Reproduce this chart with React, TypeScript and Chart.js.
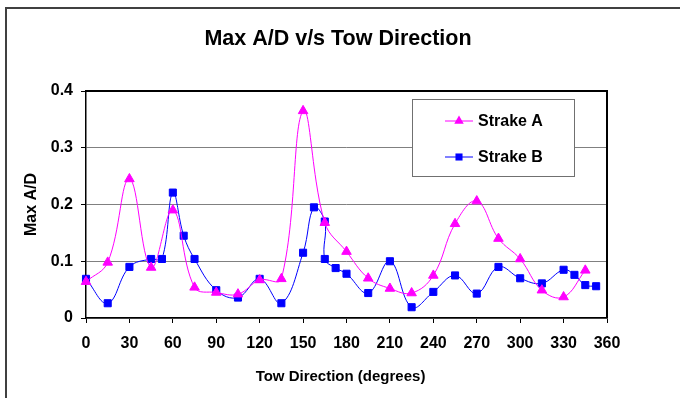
import React, { useEffect, useRef } from "react";
import { Chart, registerables } from "chart.js";

Chart.register(...registerables);

const TITLE = "Max A/D v/s Tow Direction";
const X_TITLE = "Tow Direction (degrees)";
const Y_TITLE = "Max A/D";

const strakeAX = [0, 15, 30, 45, 60, 75, 90, 105, 120, 135, 150, 165, 180, 195, 210, 225, 240, 255, 270, 285, 300, 315, 330, 345];
const strakeAY = [0.064, 0.098, 0.245, 0.089, 0.19, 0.054, 0.045, 0.042, 0.067, 0.069, 0.365, 0.168, 0.117, 0.07, 0.052, 0.044, 0.075, 0.166, 0.206, 0.14, 0.104, 0.049, 0.037, 0.084];

const strakeBX = [0, 15, 30, 45, 52.5, 60, 67.5, 75, 90, 105, 120, 135, 150, 157.5, 165, 165, 172.5, 180, 195, 210, 225, 240, 255, 270, 285, 300, 315, 330, 337.5, 345, 352.5];
const strakeBY = [0.069, 0.026, 0.09, 0.104, 0.104, 0.221, 0.145, 0.104, 0.049, 0.036, 0.069, 0.026, 0.115, 0.195, 0.17, 0.104, 0.088, 0.078, 0.044, 0.1, 0.019, 0.046, 0.075, 0.043, 0.09, 0.07, 0.061, 0.085, 0.076, 0.058, 0.056];

const FONT = "'Liberation Sans', Arial, sans-serif";

const decorPlugin = {
  id: "decor",
  beforeDraw(chart: any) {
    const ctx = chart.ctx;
    ctx.save();
    ctx.fillStyle = "#fff";
    ctx.fillRect(0, 0, chart.width, chart.height);
    // outer frame (left + top)
    ctx.strokeStyle = "#404040";
    ctx.lineWidth = 2;
    ctx.beginPath();
    ctx.moveTo(6, chart.height + 2);
    ctx.lineTo(6, 8);
    ctx.lineTo(chart.width + 2, 8);
    ctx.stroke();
    // title
    ctx.fillStyle = "#000";
    ctx.font = `bold 21.5px ${FONT}`;
    ctx.textAlign = "center";
    ctx.textBaseline = "middle";
    ctx.fillText(TITLE, 338, 39);
    // axis titles
    ctx.font = `bold 15px ${FONT}`;
    const a = chart.chartArea;
    ctx.fillText(X_TITLE, (a.left + a.right) / 2 - 6, 377);
    ctx.font = `bold 16px ${FONT}`;
    ctx.save();
    ctx.translate(32, (a.top + a.bottom) / 2);
    ctx.rotate(-Math.PI / 2);
    ctx.fillText(Y_TITLE, 0, 0);
    ctx.restore();
    ctx.restore();
  },
  afterDraw(chart: any) {
    const ctx = chart.ctx;
    const a = chart.chartArea;
    ctx.save();
    // plot frame top & right
    ctx.strokeStyle = "#000";
    ctx.lineWidth = 2;
    ctx.beginPath();
    ctx.moveTo(a.left, a.top);
    ctx.lineTo(a.right, a.top);
    ctx.lineTo(a.right, a.bottom);
    ctx.stroke();
    // legend box
    const lx = 412.5, ly = 99.5, lw = 162, lh = 77;
    ctx.fillStyle = "#fff";
    ctx.fillRect(lx, ly, lw, lh);
    ctx.strokeStyle = "#707070";
    ctx.lineWidth = 1;
    ctx.strokeRect(lx, ly, lw, lh);
    const rows = [121, 157];
    chart.data.datasets.forEach((ds: any, i: number) => {
      const y = rows[i];
      ctx.strokeStyle = ds.borderColor;
      ctx.lineWidth = 1;
      ctx.beginPath();
      ctx.moveTo(445, y);
      ctx.lineTo(473, y);
      ctx.stroke();
      ctx.fillStyle = ds.pointBackgroundColor;
      ctx.beginPath();
      if (ds.pointStyle === "triangle") {
        const r = ds.pointRadius;
        ctx.moveTo(459, y - r);
        ctx.lineTo(459 + r * 0.866, y + r * 0.5);
        ctx.lineTo(459 - r * 0.866, y + r * 0.5);
        ctx.closePath();
      } else {
        const s = ds.pointRadius * Math.SQRT1_2;
        ctx.rect(459 - s, y - s, 2 * s, 2 * s);
      }
      ctx.fill();
      ctx.fillStyle = "#000";
      ctx.font = `bold 16px ${FONT}`;
      ctx.textAlign = "left";
      ctx.textBaseline = "middle";
      ctx.fillText(ds.label, 478, y + 0.5);
    });
    ctx.restore();
  },
};

export default function App() {
  const ref = useRef<HTMLCanvasElement>(null);
  useEffect(() => {
    document.body.style.margin = "0";
    const canvas = ref.current!;
    const chart = new Chart(canvas, {
      type: "line",
      data: {
        datasets: [
          {
            label: "Strake A",
            data: strakeAX.map((x, i) => ({ x, y: strakeAY[i] })),
            borderColor: "#FF00FF",
            backgroundColor: "#FF00FF",
            pointBackgroundColor: "#FF00FF",
            pointBorderColor: "#FF00FF",
            pointStyle: "triangle",
            pointRadius: 5.5,
            borderWidth: 1,
            tension: 0.4,
            fill: false,
            clip: false,
          },
          {
            label: "Strake B",
            data: strakeBX.map((x, i) => ({ x, y: strakeBY[i] })),
            borderColor: "#0000FF",
            backgroundColor: "#0000FF",
            pointBackgroundColor: "#0000FF",
            pointBorderColor: "#0000FF",
            pointStyle: "rect",
            pointRadius: 5,
            borderWidth: 1,
            tension: 0.4,
            fill: false,
            clip: false,
          },
        ] as any,
      },
      options: {
        responsive: false,
        animation: false,
        maintainAspectRatio: false,
        layout: { padding: { left: 0, top: 91, right: 73, bottom: 0 } },
        plugins: {
          legend: { display: false },
          title: { display: false },
          tooltip: { enabled: false },
        },
        scales: {
          x: {
            type: "linear",
            min: 0,
            max: 360,
            afterFit: (s: any) => { s.height = 80; },
            ticks: {
              stepSize: 30,
              color: "#000",
              font: { family: FONT, size: 16, weight: "bold" },
              padding: 11,
              maxRotation: 0,
              autoSkip: false,
            },
            grid: { drawOnChartArea: false, drawTicks: true, tickLength: 5, tickColor: "#000", lineWidth: 1 },
            border: { color: "#000", width: 1.5 },
          },
          y: {
            type: "linear",
            min: 0,
            max: 0.4,
            afterFit: (s: any) => { s.width = 86; },
            ticks: {
              stepSize: 0.1,
              color: "#000",
              font: { family: FONT, size: 16, weight: "bold" },
              padding: 8,
            },
            grid: {
              color: "#808080",
              lineWidth: 1,
              tickLength: 5,
              tickColor: "#000",
            },
            border: { color: "#000", width: 1.5 },
          },
        },
      } as any,
      plugins: [decorPlugin],
    });
    return () => chart.destroy();
  }, []);
  return (
    <canvas
      ref={ref}
      width={680}
      height={398}
      style={{ display: "block", width: 680, height: 398 }}
    />
  );
}
